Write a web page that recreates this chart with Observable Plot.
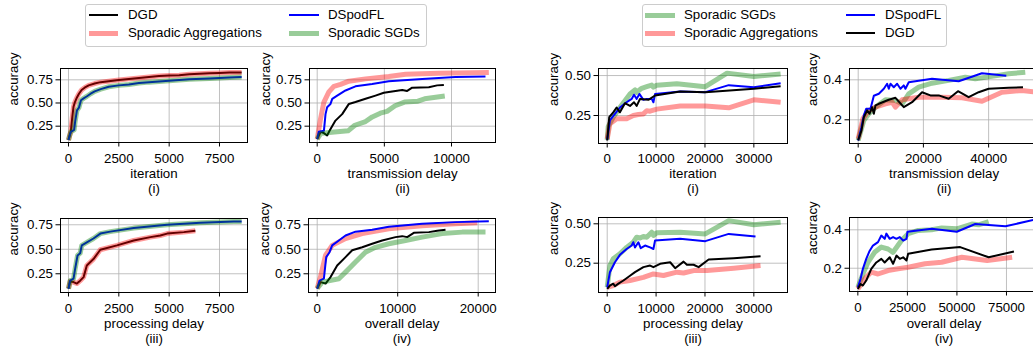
<!DOCTYPE html>
<html><head><meta charset="utf-8">
<script src="https://cdn.jsdelivr.net/npm/d3@7"></script>
<script src="https://cdn.jsdelivr.net/npm/@observablehq/plot@0.6"></script>
<style>
body{margin:0;background:#fff;}
#root{position:relative;width:1033px;height:347px;overflow:hidden;font-family:"Liberation Sans",Arial,sans-serif;font-size:13.3px;color:#000;background:#fff}
.legend{position:absolute;border:1px solid #cccccc;border-radius:3px;background:#fff;box-sizing:border-box}
.lt{position:absolute;white-space:nowrap;line-height:16px}
.sw{position:absolute}
</style></head><body><div id="root"></div>
<script>
// ---------- series names ----------
const seriesNames = ["DGD", "DSpodFL", "Sporadic Aggregations", "Sporadic SGDs"];

// ---------- tick values ----------
const ticksA_iter = [0, 2500, 5000, 7500];
const ticksA_tx = [0, 5000, 10000];
const ticksA_pr = [0, 2500, 5000, 7500];
const ticksA_ov = [0, 10000, 20000];
const ticksA_y = [0.25, 0.50, 0.75];
const ticksB_iter = [0, 10000, 20000, 30000];
const ticksB_tx = [0, 20000, 40000];
const ticksB_pr = [0, 10000, 20000, 30000];
const ticksB_ov = [0, 25000, 50000, 75000];
const ticksB_y1 = [0.25, 0.50];
const ticksB_y2 = [0.2, 0.4];

// ---------- axis labels ----------
const xLabels = ["iteration\n(i)", "transmission delay\n(ii)", "processing delay\n(iii)", "overall delay\n(iv)"];
const yLabel = "accuracy";

// ---------- left group: (i) iteration ----------
const A_iter_DGD = [[0,0.10],[60,0.15],[120,0.20],[180,0.33],[250,0.46],[320,0.51],[420,0.56],[520,0.60],[650,0.64],[800,0.665],[1000,0.69],[1300,0.71],[1600,0.725],[2000,0.735],[2500,0.748],[3000,0.76],[3500,0.77],[4000,0.78],[4500,0.79],[5000,0.797],[5500,0.80],[6000,0.81],[6500,0.815],[7000,0.82],[7500,0.824],[8000,0.828],[8600,0.83]];
const A_iter_SpAgg = [[0,0.10],[60,0.15],[120,0.20],[180,0.33],[250,0.46],[320,0.51],[420,0.56],[520,0.60],[650,0.64],[800,0.665],[1000,0.69],[1300,0.71],[1600,0.725],[2000,0.735],[2500,0.748],[3000,0.76],[3500,0.77],[4000,0.78],[4500,0.79],[5000,0.797],[5500,0.80],[6000,0.81],[6500,0.815],[7000,0.82],[7500,0.824],[8000,0.828],[8600,0.83]];
const A_iter_DSpodFL = [[0,0.10],[60,0.15],[120,0.19],[200,0.20],[280,0.21],[330,0.30],[420,0.42],[520,0.45],[620,0.53],[750,0.55],[900,0.57],[1100,0.60],[1300,0.625],[1600,0.65],[2000,0.675],[2500,0.69],[3000,0.70],[3500,0.715],[4000,0.725],[5000,0.74],[6000,0.755],[7000,0.765],[7500,0.77],[8000,0.775],[8600,0.78]];
const A_iter_SpSGD = [[0,0.10],[60,0.15],[120,0.19],[200,0.20],[280,0.21],[330,0.30],[420,0.42],[520,0.45],[620,0.53],[750,0.55],[900,0.57],[1100,0.60],[1300,0.625],[1600,0.65],[2000,0.675],[2500,0.69],[3000,0.70],[3500,0.715],[4000,0.725],[5000,0.74],[6000,0.755],[7000,0.765],[7500,0.77],[8000,0.775],[8600,0.78]];

// ---------- left group: (ii) transmission delay ----------
const A_tx_DGD = [[0,0.11],[250,0.19],[500,0.175],[740,0.15],[920,0.20],[1360,0.31],[1860,0.38],[2360,0.49],[2850,0.51],[3600,0.545],[4340,0.58],[4960,0.61],[5830,0.63],[6330,0.64],[6700,0.63],[7070,0.665],[8310,0.67],[8930,0.69],[9430,0.695]];
const A_tx_SpAgg = [[0,0.11],[250,0.33],[500,0.51],[870,0.62],[1240,0.68],[1740,0.70],[2360,0.735],[3600,0.76],[5330,0.785],[6580,0.81],[9060,0.82],[12780,0.83]];
const A_tx_DSpodFL = [[0,0.11],[120,0.19],[500,0.20],[620,0.38],[740,0.455],[990,0.49],[1120,0.545],[1490,0.58],[2110,0.635],[2850,0.68],[4090,0.705],[5330,0.735],[7820,0.76],[10300,0.78],[12530,0.785]];
const A_tx_SpSGD = [[0,0.11],[250,0.17],[700,0.18],[1500,0.19],[2300,0.20],[2800,0.26],[3600,0.30],[4100,0.35],[4700,0.39],[5200,0.41],[5800,0.47],[6500,0.51],[7500,0.52],[8000,0.545],[9500,0.575]];

// ---------- left group: (iii) processing delay ----------
const A_pr_DGD = [[0,0.10],[80,0.17],[250,0.165],[415,0.15],[580,0.18],[750,0.216],[910,0.335],[1240,0.40],[1580,0.495],[2410,0.54],[3240,0.59],[4070,0.624],[4560,0.64],[4900,0.66],[5730,0.675],[6300,0.69]];
const A_pr_SpAgg = [[0,0.10],[80,0.17],[250,0.165],[415,0.15],[580,0.18],[750,0.216],[910,0.335],[1240,0.40],[1580,0.495],[2410,0.54],[3240,0.59],[4070,0.624],[4560,0.64],[4900,0.66],[5730,0.675],[6300,0.69]];
const A_pr_DSpodFL = [[0,0.097],[80,0.18],[250,0.20],[330,0.30],[450,0.437],[580,0.46],[660,0.54],[910,0.57],[1240,0.61],[1580,0.66],[2070,0.68],[3240,0.716],[4900,0.75],[6550,0.77],[8210,0.784],[8600,0.784]];
const A_pr_SpSGD = [[0,0.097],[80,0.18],[250,0.20],[330,0.30],[450,0.437],[580,0.46],[660,0.54],[910,0.57],[1240,0.61],[1580,0.66],[2070,0.68],[3240,0.716],[4900,0.75],[6550,0.77],[8210,0.784],[8600,0.784]];

// ---------- left group: (iv) overall delay ----------
const A_ov_DGD = [[0,0.10],[410,0.165],[1040,0.15],[1660,0.216],[2480,0.335],[3520,0.42],[4350,0.49],[5590,0.52],[6830,0.556],[8070,0.59],[9730,0.624],[10560,0.634],[11180,0.624],[12000,0.668],[13870,0.675],[14910,0.69],[15940,0.70]];
const A_ov_SpAgg = [[0,0.10],[410,0.22],[1040,0.44],[1860,0.54],[3520,0.61],[5590,0.66],[8900,0.71],[13040,0.74],[17180,0.76],[19880,0.77]];
const A_ov_DSpodFL = [[0,0.097],[290,0.18],[830,0.20],[1120,0.42],[1530,0.47],[1860,0.54],[2690,0.59],[3520,0.64],[4760,0.68],[6830,0.70],[8900,0.73],[13040,0.76],[17180,0.777],[21320,0.787]];
const A_ov_SpSGD = [[0,0.10],[620,0.165],[2690,0.20],[3520,0.267],[4760,0.37],[5990,0.47],[7240,0.52],[8900,0.556],[10970,0.59],[13040,0.624],[15530,0.66],[18010,0.675],[20910,0.675]];

// ---------- right group: (i) iteration ----------
const B_iter_SpSGD = [[0,0.098],[200,0.18],[1230,0.24],[2600,0.30],[4660,0.385],[5680,0.41],[6000,0.395],[7050,0.42],[8080,0.43],[9100,0.44],[9450,0.427],[10140,0.44],[14250,0.448],[20070,0.43],[24520,0.515],[30000,0.494],[35480,0.51]];
const B_iter_SpAgg = [[0,0.104],[550,0.198],[1920,0.23],[3970,0.23],[5340,0.25],[6370,0.256],[7400,0.26],[8080,0.28],[8770,0.277],[10140,0.29],[14930,0.31],[20070,0.31],[24860,0.298],[30000,0.348],[35480,0.333]];
const B_iter_DSpodFL = [[0,0.098],[550,0.22],[1580,0.26],[2600,0.30],[3970,0.333],[5000,0.354],[5480,0.38],[6030,0.354],[6580,0.385],[7400,0.348],[8080,0.354],[9110,0.354],[9450,0.333],[9790,0.385],[14930,0.40],[20070,0.396],[24860,0.44],[30000,0.427],[35480,0.452]];
const B_iter_DGD = [[0,0.094],[410,0.24],[1230,0.27],[1920,0.30],[2600,0.27],[3630,0.327],[4660,0.31],[5480,0.333],[6030,0.31],[6710,0.354],[8420,0.348],[9790,0.375],[14930,0.40],[20070,0.396],[30000,0.417],[35480,0.433]];

// ---------- right group: (ii) transmission delay ----------
const B_tx_SpSGD = [[0,0.097],[1730,0.197],[3270,0.23],[5310,0.263],[8370,0.30],[11430,0.297],[13470,0.28],[15510,0.33],[18570,0.363],[22650,0.383],[27760,0.397],[32860,0.413],[35920,0.405],[41020,0.417],[46120,0.43],[51240,0.438]];
const B_tx_SpAgg = [[0,0.105],[1430,0.205],[3270,0.247],[5310,0.263],[8370,0.28],[10410,0.288],[11430,0.263],[13470,0.30],[18570,0.313],[25710,0.313],[31840,0.31],[37960,0.293],[44080,0.338],[50200,0.347],[54500,0.338]];
const B_tx_DSpodFL = [[0,0.097],[1020,0.163],[1730,0.222],[2450,0.255],[3780,0.255],[4800,0.32],[6330,0.33],[7860,0.355],[8880,0.38],[9390,0.355],[9900,0.38],[10920,0.363],[11940,0.38],[12960,0.355],[13980,0.372],[14490,0.355],[15510,0.388],[22650,0.405],[30820,0.393],[37960,0.433],[45420,0.42]];
const B_tx_DGD = [[0,0.097],[1020,0.147],[1730,0.213],[2760,0.247],[3470,0.23],[4290,0.263],[4800,0.23],[5310,0.272],[6330,0.28],[9390,0.30],[11430,0.31],[13980,0.263],[16530,0.288],[19590,0.338],[22140,0.322],[24690,0.322],[27760,0.305],[30610,0.343],[33880,0.313],[36940,0.338],[40000,0.355],[46120,0.36],[50540,0.363]];

// ---------- right group: (iii) processing delay ----------
const B_pr_SpSGD = [[0,0.097],[550,0.235],[1230,0.278],[2600,0.31],[3970,0.35],[5340,0.383],[6030,0.415],[6710,0.41],[7400,0.42],[8080,0.415],[9110,0.447],[9450,0.426],[10140,0.443],[14930,0.447],[20070,0.436],[24860,0.52],[30000,0.494],[35480,0.51]];
const B_pr_SpAgg = [[0,0.097],[1230,0.108],[2600,0.13],[4660,0.14],[7400,0.16],[9450,0.182],[11510,0.172],[14250,0.193],[15620,0.188],[17670,0.203],[20410,0.203],[25890,0.218],[31370,0.235]];
const B_pr_DSpodFL = [[0,0.097],[550,0.193],[1580,0.256],[2600,0.303],[3970,0.34],[5000,0.362],[5340,0.383],[5680,0.35],[6370,0.383],[6850,0.345],[7740,0.362],[8770,0.35],[9450,0.34],[9790,0.394],[14930,0.405],[20070,0.39],[24860,0.436],[30340,0.42]];
const B_pr_DGD = [[0,0.087],[550,0.108],[1230,0.12],[1580,0.104],[2290,0.12],[3320,0.14],[4660,0.17],[5680,0.193],[7400,0.225],[8770,0.235],[9450,0.225],[10820,0.246],[12880,0.256],[13900,0.218],[15620,0.26],[16300,0.24],[17670,0.24],[18700,0.225],[20750,0.273],[25890,0.282],[31370,0.294]];

// ---------- right group: (iv) overall delay ----------
const B_ov_SpSGD = [[0,0.10],[2540,0.17],[5080,0.23],[8460,0.283],[11850,0.31],[15230,0.30],[17770,0.283],[22000,0.344],[25390,0.38],[30470,0.397],[37240,0.40],[42320,0.41],[49930,0.405],[57550,0.43],[60940,0.426],[66010,0.443]];
const B_ov_SpAgg = [[0,0.092],[3380,0.144],[6770,0.18],[10160,0.17],[15230,0.188],[20310,0.197],[25390,0.205],[33850,0.223],[42320,0.231],[52470,0.257],[65240,0.24],[77860,0.257]];
const B_ov_DSpodFL = [[0,0.10],[1350,0.144],[2540,0.197],[4230,0.249],[5920,0.29],[7620,0.318],[10160,0.336],[11850,0.37],[13540,0.353],[14390,0.38],[16080,0.353],[17770,0.362],[19470,0.353],[21160,0.362],[22850,0.344],[24540,0.353],[25050,0.39],[37240,0.405],[49930,0.39],[59240,0.43],[74470,0.418],[90000,0.455]];
const B_ov_DGD = [[0,0.092],[1350,0.118],[2540,0.11],[4230,0.136],[6770,0.197],[9310,0.23],[11850,0.249],[13540,0.23],[16080,0.257],[17770,0.223],[19470,0.266],[21160,0.249],[22850,0.257],[24540,0.24],[25390,0.275],[37240,0.297],[51620,0.31],[66010,0.257],[78760,0.287]];

// ---------- styles ----------
const style = {
  "DGD": {stroke: "#000000", strokeWidth: 2, strokeOpacity: 1},
  "DSpodFL": {stroke: "#0000ff", strokeWidth: 2, strokeOpacity: 1},
  "Sporadic Aggregations": {stroke: "#ff0000", strokeWidth: 5, strokeOpacity: 0.4},
  "Sporadic SGDs": {stroke: "#008000", strokeWidth: 5, strokeOpacity: 0.4}
};

const root = document.getElementById("root");
const FONT = '"Liberation Sans", Arial, sans-serif';

function panel(cfg) {
  const mL = 62, mR = 12, mT = 6, mB = 62;
  const svg = Plot.plot({
    width: cfg.w + mL + mR, height: cfg.h + mT + mB,
    marginLeft: mL, marginRight: mR, marginTop: mT, marginBottom: mB,
    style: {fontFamily: FONT, fontSize: "13.3px", color: "#000", background: "transparent", overflow: "visible"},
    x: {domain: cfg.xd},
    y: {domain: cfg.yd},
    marks: [
      Plot.gridX(cfg.xt, {stroke: "#b0b0b0", strokeOpacity: 0.8, strokeWidth: 1}),
      Plot.gridY(cfg.yt, {stroke: "#b0b0b0", strokeOpacity: 0.8, strokeWidth: 1}),
      ...cfg.series.map(([name, data]) => Plot.line(data, {x: d => d[0], y: d => d[1], ...style[name], clip: true, strokeLinejoin: "round", strokeLinecap: "butt"})),
      Plot.frame({stroke: "#000", strokeWidth: 1}),
      Plot.axisX(cfg.xt, {tickSize: 4.5, tickPadding: cfg.xtp, label: null, tickFormat: d => String(d)}),
      Plot.axisY(cfg.yt, {tickSize: 4.5, tickPadding: 3, label: null, tickFormat: d3.format(cfg.yf)}),
      Plot.text([cfg.xl], {frameAnchor: "bottom", dy: cfg.xdy, lineAnchor: "middle", lineHeight: 1.08}),
      Plot.text([yLabel], {frameAnchor: "left", dx: -cfg.ydx, rotate: -90})
    ]
  });
  svg.style.position = "absolute";
  svg.style.left = (cfg.left - mL) + "px";
  svg.style.top = (cfg.top - mT) + "px";
  root.appendChild(svg);
}

// left group (draw order: DGD, Sporadic Aggregations, DSpodFL, Sporadic SGDs)
panel({left: 60, top: 68, w: 187, h: 74, xd: [-397, 8891], yd: [0.074, 0.872], xt: ticksA_iter, yt: ticksA_y, yf: ".2f", xl: xLabels[0], xtp: 6.5, xdy: 38.5, ydx: 47,
  series: [["DGD", A_iter_DGD], ["Sporadic Aggregations", A_iter_SpAgg], ["DSpodFL", A_iter_DSpodFL], ["Sporadic SGDs", A_iter_SpSGD]]});
panel({left: 309, top: 68, w: 186, h: 74, xd: [-573, 13276], yd: [0.074, 0.872], xt: ticksA_tx, yt: ticksA_y, yf: ".2f", xl: xLabels[1], xtp: 6.5, xdy: 38.5, ydx: 44,
  series: [["DGD", A_tx_DGD], ["Sporadic Aggregations", A_tx_SpAgg], ["DSpodFL", A_tx_DSpodFL], ["Sporadic SGDs", A_tx_SpSGD]]});
panel({left: 60, top: 218, w: 187, h: 74, xd: [-397, 8891], yd: [0.059, 0.814], xt: ticksA_pr, yt: ticksA_y, yf: ".2f", xl: xLabels[2], xtp: 6.5, xdy: 38.5, ydx: 47,
  series: [["DGD", A_pr_DGD], ["Sporadic Aggregations", A_pr_SpAgg], ["DSpodFL", A_pr_DSpodFL], ["Sporadic SGDs", A_pr_SpSGD]]});
panel({left: 308, top: 218, w: 187, h: 74, xd: [-1081, 22150], yd: [0.059, 0.814], xt: ticksA_ov, yt: ticksA_y, yf: ".2f", xl: xLabels[3], xtp: 6.5, xdy: 38.5, ydx: 44,
  series: [["DGD", A_ov_DGD], ["Sporadic Aggregations", A_ov_SpAgg], ["DSpodFL", A_ov_DSpodFL], ["Sporadic SGDs", A_ov_SpSGD]]});

// right group (draw order: Sporadic SGDs, Sporadic Aggregations, DSpodFL, DGD)
panel({left: 598, top: 68, w: 189, h: 75, xd: [-1783, 36885], yd: [0.075, 0.544], xt: ticksB_iter, yt: ticksB_y1, yf: ".2f", xl: xLabels[0], xtp: 5.5, xdy: 37.5, ydx: 45,
  series: [["Sporadic SGDs", B_iter_SpSGD], ["Sporadic Aggregations", B_iter_SpAgg], ["DSpodFL", B_iter_DSpodFL], ["DGD", B_iter_DGD]]});
panel({left: 849, top: 68, w: 189, h: 75, xd: [-2665, 55300], yd: [0.0815, 0.4565], xt: ticksB_tx, yt: ticksB_y2, yf: ".1f", xl: xLabels[1], xtp: 5.5, xdy: 37.5, ydx: 37,
  series: [["Sporadic SGDs", B_tx_SpSGD], ["Sporadic Aggregations", B_tx_SpAgg], ["DSpodFL", B_tx_DSpodFL], ["DGD", B_tx_DGD]]});
panel({left: 598, top: 217, w: 189, h: 75, xd: [-1783, 36885], yd: [0.064, 0.54], xt: ticksB_pr, yt: ticksB_y1, yf: ".2f", xl: xLabels[2], xtp: 6.5, xdy: 38.5, ydx: 45,
  series: [["Sporadic SGDs", B_pr_SpSGD], ["Sporadic Aggregations", B_pr_SpAgg], ["DSpodFL", B_pr_DSpodFL], ["DGD", B_pr_DGD]]});
panel({left: 849, top: 217, w: 189, h: 74, xd: [-4217, 91160], yd: [0.079, 0.464], xt: ticksB_ov, yt: ticksB_y2, yf: ".1f", xl: xLabels[3], xtp: 7, xdy: 39.5, ydx: 37,
  series: [["Sporadic SGDs", B_ov_SpSGD], ["Sporadic Aggregations", B_ov_SpAgg], ["DSpodFL", B_ov_DSpodFL], ["DGD", B_ov_DGD]]});

// ---------- legends ----------
function legend(box, cols) {
  const d = document.createElement("div");
  d.className = "legend";
  Object.assign(d.style, {left: box.left + "px", top: box.top + "px", width: box.w + "px", height: box.h + "px"});
  root.appendChild(d);
  cols.forEach(col => col.names.forEach((name, r) => {
    const cy = box.rows[r];
    const s = style[name];
    const sw = document.createElement("div");
    sw.className = "sw";
    const mix = s.strokeOpacity < 1 ? (name === "Sporadic SGDs" ? "#99cc99" : "#ff9999") : s.stroke;
    Object.assign(sw.style, {left: col.x0 + "px", width: (col.x1 - col.x0) + "px", top: (cy - s.strokeWidth / 2) + "px", height: s.strokeWidth + "px", background: mix});
    root.appendChild(sw);
    const t = document.createElement("div");
    t.className = "lt";
    t.textContent = name;
    Object.assign(t.style, {left: col.tx + "px", top: (cy - 8) + "px"});
    root.appendChild(t);
  }));
}
legend({left: 85, top: 4, w: 342, h: 43, rows: [15, 33]},
  [{x0: 89, x1: 118, tx: 128, names: ["DGD", "Sporadic Aggregations"]},
   {x0: 289, x1: 319, tx: 328, names: ["DSpodFL", "Sporadic SGDs"]}]);
legend({left: 642, top: 4, w: 305, h: 43, rows: [15, 33]},
  [{x0: 645, x1: 675, tx: 684, names: ["Sporadic SGDs", "Sporadic Aggregations"]},
   {x0: 846, x1: 875, tx: 885, names: ["DSpodFL", "DGD"]}]);
</script>
</body></html>
